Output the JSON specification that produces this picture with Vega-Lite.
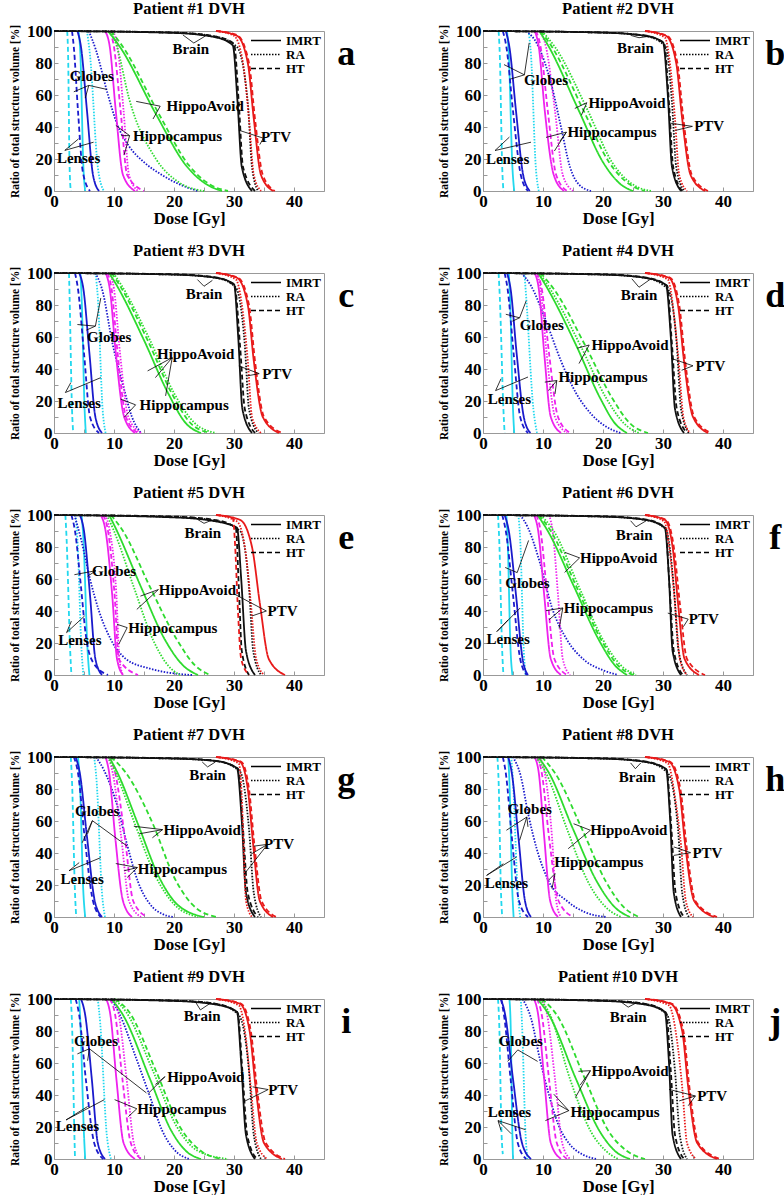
{"$schema":"https://vega.github.io/schema/vega-lite/v6.json","padding":{"left":9,"top":0,"right":0,"bottom":0},"columns":2,"spacing":{"row":82,"column":159},"bounds":"flush","resolve":{"scale":{"strokeDash":"independent"},"legend":{"strokeDash":"independent"}},
"datasets":{
"c1":[{"s":"L","t":"I","x":4.1,"y":100},{"s":"L","t":"I","x":4.4,"y":85},{"s":"L","t":"I","x":4.9,"y":15},{"s":"L","t":"I","x":5.2,"y":0},{"s":"L","t":"R","x":5.5,"y":100},{"s":"L","t":"R","x":6,"y":85},{"s":"L","t":"R","x":7.3,"y":15},{"s":"L","t":"R","x":8.3,"y":0},{"s":"L","t":"H","x":2.2,"y":100},{"s":"L","t":"H","x":2.35,"y":85},{"s":"L","t":"H","x":2.6,"y":15},{"s":"L","t":"H","x":2.8,"y":0},{"s":"G","t":"I","x":3.9,"y":100},{"s":"G","t":"I","x":4.5,"y":90},{"s":"G","t":"I","x":5.5,"y":50},{"s":"G","t":"I","x":6.5,"y":10},{"s":"G","t":"I","x":7.5,"y":0},{"s":"G","t":"R","x":5.8,"y":100},{"s":"G","t":"R","x":7,"y":88},{"s":"G","t":"R","x":9,"y":60},{"s":"G","t":"R","x":10.5,"y":42},{"s":"G","t":"R","x":12.5,"y":28},{"s":"G","t":"R","x":15,"y":18},{"s":"G","t":"R","x":18,"y":10},{"s":"G","t":"R","x":21,"y":4},{"s":"G","t":"R","x":24,"y":0},{"s":"G","t":"H","x":3,"y":100},{"s":"G","t":"H","x":3.3,"y":90},{"s":"G","t":"H","x":4,"y":50},{"s":"G","t":"H","x":4.8,"y":12},{"s":"G","t":"H","x":6,"y":0},{"s":"C","t":"I","x":8.5,"y":100},{"s":"C","t":"I","x":9.3,"y":90},{"s":"C","t":"I","x":10.3,"y":50},{"s":"C","t":"I","x":11.5,"y":10},{"s":"C","t":"I","x":13.5,"y":0},{"s":"C","t":"R","x":9.8,"y":100},{"s":"C","t":"R","x":10.6,"y":90},{"s":"C","t":"R","x":11.6,"y":50},{"s":"C","t":"R","x":12.5,"y":10},{"s":"C","t":"R","x":14,"y":0},{"s":"C","t":"H","x":9.3,"y":100},{"s":"C","t":"H","x":10,"y":90},{"s":"C","t":"H","x":11.1,"y":50},{"s":"C","t":"H","x":12.2,"y":10},{"s":"C","t":"H","x":15,"y":0},{"s":"A","t":"I","x":9,"y":100},{"s":"A","t":"I","x":11,"y":90},{"s":"A","t":"I","x":17,"y":48},{"s":"A","t":"I","x":22,"y":16},{"s":"A","t":"I","x":25.5,"y":4},{"s":"A","t":"I","x":28,"y":0},{"s":"A","t":"R","x":9.5,"y":100},{"s":"A","t":"R","x":10.5,"y":90},{"s":"A","t":"R","x":12.5,"y":58},{"s":"A","t":"R","x":17,"y":20},{"s":"A","t":"R","x":21,"y":5},{"s":"A","t":"R","x":25,"y":0},{"s":"A","t":"H","x":9.5,"y":100},{"s":"A","t":"H","x":11.5,"y":90},{"s":"A","t":"H","x":17.5,"y":48},{"s":"A","t":"H","x":22.5,"y":16},{"s":"A","t":"H","x":26,"y":4},{"s":"A","t":"H","x":29,"y":0},{"s":"B","t":"I","x":0,"y":100},{"s":"B","t":"I","x":20,"y":98.8},{"s":"B","t":"I","x":27,"y":96},{"s":"B","t":"I","x":29.8,"y":91},{"s":"B","t":"I","x":30.6,"y":55},{"s":"B","t":"I","x":31.3,"y":15},{"s":"B","t":"I","x":33,"y":0},{"s":"B","t":"R","x":0,"y":100},{"s":"B","t":"R","x":20,"y":99},{"s":"B","t":"R","x":27,"y":96.5},{"s":"B","t":"R","x":30.5,"y":90},{"s":"B","t":"R","x":32.3,"y":55},{"s":"B","t":"R","x":33,"y":15},{"s":"B","t":"R","x":34,"y":0},{"s":"B","t":"H","x":0,"y":100},{"s":"B","t":"H","x":20,"y":99},{"s":"B","t":"H","x":27,"y":96.5},{"s":"B","t":"H","x":30,"y":92},{"s":"B","t":"H","x":30.8,"y":55},{"s":"B","t":"H","x":31.5,"y":15},{"s":"B","t":"H","x":33.5,"y":0},{"s":"P","t":"I","x":27,"y":100},{"s":"P","t":"I","x":30.5,"y":97},{"s":"P","t":"I","x":32.3,"y":80},{"s":"P","t":"I","x":33.3,"y":45},{"s":"P","t":"I","x":34.5,"y":10},{"s":"P","t":"I","x":36.5,"y":0},{"s":"P","t":"R","x":27,"y":100},{"s":"P","t":"R","x":30,"y":97},{"s":"P","t":"R","x":31.5,"y":80},{"s":"P","t":"R","x":32.5,"y":45},{"s":"P","t":"R","x":33.3,"y":10},{"s":"P","t":"R","x":34.5,"y":0},{"s":"P","t":"H","x":27,"y":100},{"s":"P","t":"H","x":30.5,"y":97.5},{"s":"P","t":"H","x":32.5,"y":80},{"s":"P","t":"H","x":33.5,"y":45},{"s":"P","t":"H","x":34.8,"y":10},{"s":"P","t":"H","x":36.8,"y":0}],
"c2":[{"s":"L","t":"I","x":4,"y":100},{"s":"L","t":"I","x":4.3,"y":85},{"s":"L","t":"I","x":4.9,"y":15},{"s":"L","t":"I","x":5.2,"y":0},{"s":"L","t":"R","x":7.6,"y":100},{"s":"L","t":"R","x":8,"y":85},{"s":"L","t":"R","x":8.8,"y":15},{"s":"L","t":"R","x":9.3,"y":0},{"s":"L","t":"H","x":2.6,"y":100},{"s":"L","t":"H","x":2.8,"y":85},{"s":"L","t":"H","x":3.2,"y":15},{"s":"L","t":"H","x":3.4,"y":0},{"s":"G","t":"I","x":3.8,"y":100},{"s":"G","t":"I","x":4.4,"y":90},{"s":"G","t":"I","x":5.5,"y":50},{"s":"G","t":"I","x":6.7,"y":10},{"s":"G","t":"I","x":7.8,"y":0},{"s":"G","t":"R","x":7.2,"y":100},{"s":"G","t":"R","x":9,"y":92},{"s":"G","t":"R","x":11.5,"y":65},{"s":"G","t":"R","x":13,"y":40},{"s":"G","t":"R","x":14.5,"y":15},{"s":"G","t":"R","x":16,"y":4},{"s":"G","t":"R","x":18,"y":0},{"s":"G","t":"H","x":3.3,"y":100},{"s":"G","t":"H","x":3.9,"y":90},{"s":"G","t":"H","x":5,"y":50},{"s":"G","t":"H","x":6.3,"y":10},{"s":"G","t":"H","x":7.5,"y":0},{"s":"C","t":"I","x":8.6,"y":100},{"s":"C","t":"I","x":9.3,"y":90},{"s":"C","t":"I","x":10.3,"y":50},{"s":"C","t":"I","x":11.8,"y":10},{"s":"C","t":"I","x":13.5,"y":0},{"s":"C","t":"R","x":9.3,"y":100},{"s":"C","t":"R","x":10.5,"y":90},{"s":"C","t":"R","x":12,"y":50},{"s":"C","t":"R","x":13.3,"y":10},{"s":"C","t":"R","x":15,"y":0},{"s":"C","t":"H","x":8.8,"y":100},{"s":"C","t":"H","x":9.6,"y":90},{"s":"C","t":"H","x":10.8,"y":50},{"s":"C","t":"H","x":12.2,"y":10},{"s":"C","t":"H","x":14,"y":0},{"s":"A","t":"I","x":9.4,"y":100},{"s":"A","t":"I","x":11,"y":90},{"s":"A","t":"I","x":16,"y":50},{"s":"A","t":"I","x":20,"y":18},{"s":"A","t":"I","x":23,"y":4},{"s":"A","t":"I","x":25,"y":0},{"s":"A","t":"R","x":9.8,"y":100},{"s":"A","t":"R","x":12,"y":90},{"s":"A","t":"R","x":17.5,"y":50},{"s":"A","t":"R","x":21.5,"y":18},{"s":"A","t":"R","x":25,"y":4},{"s":"A","t":"R","x":28,"y":0},{"s":"A","t":"H","x":9.6,"y":100},{"s":"A","t":"H","x":11.5,"y":90},{"s":"A","t":"H","x":16.8,"y":50},{"s":"A","t":"H","x":21,"y":18},{"s":"A","t":"H","x":24.5,"y":4},{"s":"A","t":"H","x":27,"y":0},{"s":"B","t":"I","x":0,"y":100},{"s":"B","t":"I","x":20,"y":99},{"s":"B","t":"I","x":27,"y":97},{"s":"B","t":"I","x":30,"y":93},{"s":"B","t":"I","x":30.8,"y":60},{"s":"B","t":"I","x":31.5,"y":15},{"s":"B","t":"I","x":33,"y":0},{"s":"B","t":"R","x":0,"y":100},{"s":"B","t":"R","x":20,"y":99},{"s":"B","t":"R","x":27,"y":97},{"s":"B","t":"R","x":30.5,"y":90},{"s":"B","t":"R","x":31.5,"y":55},{"s":"B","t":"R","x":32.2,"y":15},{"s":"B","t":"R","x":33.5,"y":0},{"s":"B","t":"H","x":0,"y":100},{"s":"B","t":"H","x":20,"y":99},{"s":"B","t":"H","x":27,"y":97.2},{"s":"B","t":"H","x":30.2,"y":92},{"s":"B","t":"H","x":31,"y":55},{"s":"B","t":"H","x":31.7,"y":15},{"s":"B","t":"H","x":33.2,"y":0},{"s":"P","t":"I","x":27,"y":100},{"s":"P","t":"I","x":30.5,"y":97},{"s":"P","t":"I","x":32.2,"y":80},{"s":"P","t":"I","x":33.2,"y":45},{"s":"P","t":"I","x":34.6,"y":10},{"s":"P","t":"I","x":37,"y":0},{"s":"P","t":"R","x":27,"y":100},{"s":"P","t":"R","x":30.3,"y":96},{"s":"P","t":"R","x":31.3,"y":75},{"s":"P","t":"R","x":32,"y":45},{"s":"P","t":"R","x":32.7,"y":10},{"s":"P","t":"R","x":34,"y":0},{"s":"P","t":"H","x":27,"y":100},{"s":"P","t":"H","x":30.7,"y":97},{"s":"P","t":"H","x":32.4,"y":80},{"s":"P","t":"H","x":33.4,"y":45},{"s":"P","t":"H","x":34.8,"y":10},{"s":"P","t":"H","x":37.5,"y":0}],
"c3":[{"s":"L","t":"I","x":4.4,"y":100},{"s":"L","t":"I","x":4.6,"y":85},{"s":"L","t":"I","x":5.1,"y":15},{"s":"L","t":"I","x":5.3,"y":0},{"s":"L","t":"R","x":6.9,"y":100},{"s":"L","t":"R","x":7.3,"y":85},{"s":"L","t":"R","x":8.1,"y":15},{"s":"L","t":"R","x":8.6,"y":0},{"s":"L","t":"H","x":2.5,"y":100},{"s":"L","t":"H","x":2.6,"y":85},{"s":"L","t":"H","x":3,"y":15},{"s":"L","t":"H","x":3.2,"y":0},{"s":"G","t":"I","x":4.2,"y":100},{"s":"G","t":"I","x":4.9,"y":90},{"s":"G","t":"I","x":5.9,"y":50},{"s":"G","t":"I","x":6.9,"y":10},{"s":"G","t":"I","x":8,"y":0},{"s":"G","t":"R","x":6.9,"y":100},{"s":"G","t":"R","x":8,"y":90},{"s":"G","t":"R","x":9.8,"y":55},{"s":"G","t":"R","x":11.5,"y":30},{"s":"G","t":"R","x":13,"y":10},{"s":"G","t":"R","x":14.5,"y":0},{"s":"G","t":"H","x":3.5,"y":100},{"s":"G","t":"H","x":4,"y":90},{"s":"G","t":"H","x":5,"y":50},{"s":"G","t":"H","x":6,"y":10},{"s":"G","t":"H","x":7.5,"y":0},{"s":"C","t":"I","x":8.6,"y":100},{"s":"C","t":"I","x":9.3,"y":90},{"s":"C","t":"I","x":10.3,"y":50},{"s":"C","t":"I","x":11.7,"y":10},{"s":"C","t":"I","x":13.5,"y":0},{"s":"C","t":"R","x":9.2,"y":100},{"s":"C","t":"R","x":10,"y":90},{"s":"C","t":"R","x":11,"y":50},{"s":"C","t":"R","x":12.4,"y":10},{"s":"C","t":"R","x":14.5,"y":0},{"s":"C","t":"H","x":8.9,"y":100},{"s":"C","t":"H","x":9.6,"y":90},{"s":"C","t":"H","x":10.6,"y":50},{"s":"C","t":"H","x":12,"y":10},{"s":"C","t":"H","x":14,"y":0},{"s":"A","t":"I","x":9.2,"y":100},{"s":"A","t":"I","x":10.5,"y":92},{"s":"A","t":"I","x":15,"y":58},{"s":"A","t":"I","x":19,"y":25},{"s":"A","t":"I","x":22,"y":6},{"s":"A","t":"I","x":24.5,"y":0},{"s":"A","t":"R","x":9.9,"y":100},{"s":"A","t":"R","x":11.3,"y":92},{"s":"A","t":"R","x":16,"y":58},{"s":"A","t":"R","x":20,"y":25},{"s":"A","t":"R","x":23.5,"y":6},{"s":"A","t":"R","x":27,"y":0},{"s":"A","t":"H","x":9.6,"y":100},{"s":"A","t":"H","x":11,"y":92},{"s":"A","t":"H","x":15.6,"y":58},{"s":"A","t":"H","x":19.6,"y":25},{"s":"A","t":"H","x":22.8,"y":6},{"s":"A","t":"H","x":26,"y":0},{"s":"B","t":"I","x":0,"y":100},{"s":"B","t":"I","x":20,"y":99},{"s":"B","t":"I","x":27,"y":97},{"s":"B","t":"I","x":30,"y":93},{"s":"B","t":"I","x":30.7,"y":60},{"s":"B","t":"I","x":31.4,"y":15},{"s":"B","t":"I","x":33,"y":0},{"s":"B","t":"R","x":0,"y":100},{"s":"B","t":"R","x":20,"y":99},{"s":"B","t":"R","x":27,"y":97},{"s":"B","t":"R","x":30.3,"y":91},{"s":"B","t":"R","x":31.8,"y":55},{"s":"B","t":"R","x":32.5,"y":15},{"s":"B","t":"R","x":34,"y":0},{"s":"B","t":"H","x":0,"y":100},{"s":"B","t":"H","x":20,"y":99.2},{"s":"B","t":"H","x":27,"y":97.3},{"s":"B","t":"H","x":30.1,"y":92},{"s":"B","t":"H","x":31,"y":55},{"s":"B","t":"H","x":31.8,"y":15},{"s":"B","t":"H","x":33.5,"y":0},{"s":"P","t":"I","x":27,"y":100},{"s":"P","t":"I","x":30.5,"y":97},{"s":"P","t":"I","x":32.3,"y":80},{"s":"P","t":"I","x":33.3,"y":45},{"s":"P","t":"I","x":34.8,"y":10},{"s":"P","t":"I","x":37.5,"y":0},{"s":"P","t":"R","x":27,"y":100},{"s":"P","t":"R","x":30.3,"y":96},{"s":"P","t":"R","x":31.5,"y":75},{"s":"P","t":"R","x":32.3,"y":45},{"s":"P","t":"R","x":33,"y":10},{"s":"P","t":"R","x":34.5,"y":0},{"s":"P","t":"H","x":27,"y":100},{"s":"P","t":"H","x":30.7,"y":97},{"s":"P","t":"H","x":32.5,"y":80},{"s":"P","t":"H","x":33.5,"y":45},{"s":"P","t":"H","x":35,"y":10},{"s":"P","t":"H","x":38,"y":0}],
"c4":[{"s":"L","t":"I","x":4.3,"y":100},{"s":"L","t":"I","x":4.5,"y":85},{"s":"L","t":"I","x":5,"y":15},{"s":"L","t":"I","x":5.2,"y":0},{"s":"L","t":"R","x":6.9,"y":100},{"s":"L","t":"R","x":7.2,"y":85},{"s":"L","t":"R","x":8.4,"y":15},{"s":"L","t":"R","x":9,"y":0},{"s":"L","t":"H","x":2.6,"y":100},{"s":"L","t":"H","x":2.8,"y":85},{"s":"L","t":"H","x":3.4,"y":15},{"s":"L","t":"H","x":3.6,"y":0},{"s":"G","t":"I","x":4,"y":100},{"s":"G","t":"I","x":4.6,"y":90},{"s":"G","t":"I","x":5.6,"y":50},{"s":"G","t":"I","x":6.8,"y":10},{"s":"G","t":"I","x":7.9,"y":0},{"s":"G","t":"R","x":6.4,"y":100},{"s":"G","t":"R","x":8,"y":92},{"s":"G","t":"R","x":10.5,"y":70},{"s":"G","t":"R","x":13,"y":45},{"s":"G","t":"R","x":15.5,"y":25},{"s":"G","t":"R","x":18,"y":12},{"s":"G","t":"R","x":20.5,"y":4},{"s":"G","t":"R","x":23,"y":0},{"s":"G","t":"H","x":3.6,"y":100},{"s":"G","t":"H","x":4.1,"y":90},{"s":"G","t":"H","x":5.1,"y":50},{"s":"G","t":"H","x":6.2,"y":10},{"s":"G","t":"H","x":7.5,"y":0},{"s":"C","t":"I","x":8.6,"y":100},{"s":"C","t":"I","x":9.3,"y":90},{"s":"C","t":"I","x":10.2,"y":50},{"s":"C","t":"I","x":11.3,"y":10},{"s":"C","t":"I","x":13,"y":0},{"s":"C","t":"R","x":9,"y":100},{"s":"C","t":"R","x":9.6,"y":90},{"s":"C","t":"R","x":10.6,"y":50},{"s":"C","t":"R","x":12,"y":10},{"s":"C","t":"R","x":14,"y":0},{"s":"C","t":"H","x":9,"y":100},{"s":"C","t":"H","x":9.8,"y":90},{"s":"C","t":"H","x":11,"y":50},{"s":"C","t":"H","x":12.5,"y":10},{"s":"C","t":"H","x":14.5,"y":0},{"s":"A","t":"I","x":9.2,"y":100},{"s":"A","t":"I","x":10.8,"y":90},{"s":"A","t":"I","x":15.5,"y":55},{"s":"A","t":"I","x":19.5,"y":22},{"s":"A","t":"I","x":22,"y":6},{"s":"A","t":"I","x":24,"y":0},{"s":"A","t":"R","x":9.4,"y":100},{"s":"A","t":"R","x":11.2,"y":90},{"s":"A","t":"R","x":16.2,"y":55},{"s":"A","t":"R","x":20.5,"y":22},{"s":"A","t":"R","x":23.5,"y":6},{"s":"A","t":"R","x":26,"y":0},{"s":"A","t":"H","x":9.6,"y":100},{"s":"A","t":"H","x":11.8,"y":90},{"s":"A","t":"H","x":17,"y":55},{"s":"A","t":"H","x":21.5,"y":22},{"s":"A","t":"H","x":24.5,"y":6},{"s":"A","t":"H","x":27.5,"y":0},{"s":"B","t":"I","x":0,"y":100},{"s":"B","t":"I","x":20,"y":99},{"s":"B","t":"I","x":27,"y":97},{"s":"B","t":"I","x":30.5,"y":92.5},{"s":"B","t":"I","x":31.3,"y":60},{"s":"B","t":"I","x":32,"y":15},{"s":"B","t":"I","x":33.5,"y":0},{"s":"B","t":"R","x":0,"y":100},{"s":"B","t":"R","x":20,"y":99},{"s":"B","t":"R","x":27,"y":97},{"s":"B","t":"R","x":30.8,"y":90},{"s":"B","t":"R","x":32.3,"y":55},{"s":"B","t":"R","x":33,"y":15},{"s":"B","t":"R","x":34.3,"y":0},{"s":"B","t":"H","x":0,"y":100},{"s":"B","t":"H","x":20,"y":99.2},{"s":"B","t":"H","x":27,"y":97.3},{"s":"B","t":"H","x":30.7,"y":92},{"s":"B","t":"H","x":31.5,"y":55},{"s":"B","t":"H","x":32.3,"y":15},{"s":"B","t":"H","x":34,"y":0},{"s":"P","t":"I","x":27,"y":100},{"s":"P","t":"I","x":31,"y":97},{"s":"P","t":"I","x":32.5,"y":80},{"s":"P","t":"I","x":33.5,"y":45},{"s":"P","t":"I","x":35,"y":10},{"s":"P","t":"I","x":37.5,"y":0},{"s":"P","t":"R","x":27,"y":100},{"s":"P","t":"R","x":30.8,"y":96},{"s":"P","t":"R","x":31.8,"y":75},{"s":"P","t":"R","x":32.6,"y":45},{"s":"P","t":"R","x":33.4,"y":10},{"s":"P","t":"R","x":34.5,"y":0},{"s":"P","t":"H","x":27,"y":100},{"s":"P","t":"H","x":31.2,"y":97},{"s":"P","t":"H","x":32.7,"y":80},{"s":"P","t":"H","x":33.7,"y":45},{"s":"P","t":"H","x":35.2,"y":10},{"s":"P","t":"H","x":38,"y":0}],
"c5":[{"s":"L","t":"I","x":4.6,"y":100},{"s":"L","t":"I","x":4.9,"y":85},{"s":"L","t":"I","x":5.6,"y":15},{"s":"L","t":"I","x":5.9,"y":0},{"s":"L","t":"R","x":3.6,"y":100},{"s":"L","t":"R","x":3.9,"y":85},{"s":"L","t":"R","x":4.6,"y":15},{"s":"L","t":"R","x":4.9,"y":0},{"s":"L","t":"H","x":1.9,"y":100},{"s":"L","t":"H","x":2.1,"y":85},{"s":"L","t":"H","x":2.7,"y":15},{"s":"L","t":"H","x":2.9,"y":0},{"s":"G","t":"I","x":4.3,"y":100},{"s":"G","t":"I","x":5,"y":90},{"s":"G","t":"I","x":6,"y":50},{"s":"G","t":"I","x":6.9,"y":10},{"s":"G","t":"I","x":8,"y":0},{"s":"G","t":"R","x":3.4,"y":100},{"s":"G","t":"R","x":4.5,"y":85},{"s":"G","t":"R","x":6,"y":60},{"s":"G","t":"R","x":7.5,"y":40},{"s":"G","t":"R","x":9.5,"y":22},{"s":"G","t":"R","x":12,"y":10},{"s":"G","t":"R","x":16,"y":4},{"s":"G","t":"R","x":20,"y":1},{"s":"G","t":"R","x":23,"y":0},{"s":"G","t":"H","x":2.9,"y":100},{"s":"G","t":"H","x":3.5,"y":90},{"s":"G","t":"H","x":4.5,"y":55},{"s":"G","t":"H","x":5.3,"y":25},{"s":"G","t":"H","x":6.5,"y":8},{"s":"G","t":"H","x":9,"y":0},{"s":"C","t":"I","x":7.8,"y":100},{"s":"C","t":"I","x":8.6,"y":90},{"s":"C","t":"I","x":9.7,"y":50},{"s":"C","t":"I","x":10.5,"y":10},{"s":"C","t":"I","x":11.5,"y":0},{"s":"C","t":"R","x":8.5,"y":100},{"s":"C","t":"R","x":9.3,"y":90},{"s":"C","t":"R","x":10.4,"y":50},{"s":"C","t":"R","x":10.9,"y":10},{"s":"C","t":"R","x":11.5,"y":0},{"s":"C","t":"H","x":8.2,"y":100},{"s":"C","t":"H","x":9,"y":90},{"s":"C","t":"H","x":10.1,"y":50},{"s":"C","t":"H","x":10.8,"y":10},{"s":"C","t":"H","x":14,"y":0},{"s":"A","t":"I","x":9.2,"y":100},{"s":"A","t":"I","x":10.5,"y":90},{"s":"A","t":"I","x":14.5,"y":55},{"s":"A","t":"I","x":18.5,"y":22},{"s":"A","t":"I","x":21.5,"y":6},{"s":"A","t":"I","x":24,"y":0},{"s":"A","t":"R","x":8.8,"y":100},{"s":"A","t":"R","x":10,"y":90},{"s":"A","t":"R","x":13.3,"y":55},{"s":"A","t":"R","x":16.5,"y":22},{"s":"A","t":"R","x":19,"y":6},{"s":"A","t":"R","x":21,"y":0},{"s":"A","t":"H","x":9.5,"y":100},{"s":"A","t":"H","x":11.5,"y":90},{"s":"A","t":"H","x":16,"y":55},{"s":"A","t":"H","x":20.5,"y":22},{"s":"A","t":"H","x":23.5,"y":6},{"s":"A","t":"H","x":26,"y":0},{"s":"B","t":"I","x":0,"y":100},{"s":"B","t":"I","x":20,"y":98.5},{"s":"B","t":"I","x":27,"y":96},{"s":"B","t":"I","x":30.5,"y":92},{"s":"B","t":"I","x":31.2,"y":60},{"s":"B","t":"I","x":32,"y":15},{"s":"B","t":"I","x":33.5,"y":0},{"s":"B","t":"R","x":0,"y":100},{"s":"B","t":"R","x":20,"y":98.8},{"s":"B","t":"R","x":27,"y":96.5},{"s":"B","t":"R","x":31,"y":90},{"s":"B","t":"R","x":32.5,"y":55},{"s":"B","t":"R","x":33.2,"y":15},{"s":"B","t":"R","x":34.5,"y":0},{"s":"B","t":"H","x":0,"y":100},{"s":"B","t":"H","x":20,"y":99},{"s":"B","t":"H","x":27,"y":96.8},{"s":"B","t":"H","x":30.3,"y":92},{"s":"B","t":"H","x":30.8,"y":55},{"s":"B","t":"H","x":31.3,"y":15},{"s":"B","t":"H","x":32.5,"y":0},{"s":"P","t":"I","x":27,"y":100},{"s":"P","t":"I","x":31,"y":97},{"s":"P","t":"I","x":33,"y":80},{"s":"P","t":"I","x":34.3,"y":45},{"s":"P","t":"I","x":35.8,"y":10},{"s":"P","t":"I","x":38.5,"y":0},{"s":"P","t":"R","x":27,"y":100},{"s":"P","t":"R","x":30.5,"y":96},{"s":"P","t":"R","x":32,"y":75},{"s":"P","t":"R","x":32.8,"y":45},{"s":"P","t":"R","x":33.7,"y":10},{"s":"P","t":"R","x":35,"y":0},{"s":"P","t":"H","x":27,"y":100},{"s":"P","t":"H","x":29.8,"y":98},{"s":"P","t":"H","x":30.2,"y":80},{"s":"P","t":"H","x":30.6,"y":45},{"s":"P","t":"H","x":31.2,"y":10},{"s":"P","t":"H","x":32.5,"y":0}],
"c6":[{"s":"L","t":"I","x":3.9,"y":100},{"s":"L","t":"I","x":4.1,"y":85},{"s":"L","t":"I","x":4.6,"y":15},{"s":"L","t":"I","x":4.9,"y":0},{"s":"L","t":"R","x":5.9,"y":100},{"s":"L","t":"R","x":6.2,"y":85},{"s":"L","t":"R","x":6.8,"y":15},{"s":"L","t":"R","x":7.1,"y":0},{"s":"L","t":"H","x":2.5,"y":100},{"s":"L","t":"H","x":2.7,"y":85},{"s":"L","t":"H","x":3.2,"y":15},{"s":"L","t":"H","x":3.4,"y":0},{"s":"G","t":"I","x":3.6,"y":100},{"s":"G","t":"I","x":4.3,"y":90},{"s":"G","t":"I","x":5.5,"y":50},{"s":"G","t":"I","x":6.6,"y":10},{"s":"G","t":"I","x":7.5,"y":0},{"s":"G","t":"R","x":6.2,"y":100},{"s":"G","t":"R","x":7.5,"y":92},{"s":"G","t":"R","x":9.5,"y":70},{"s":"G","t":"R","x":11.5,"y":42},{"s":"G","t":"R","x":14,"y":22},{"s":"G","t":"R","x":17,"y":9},{"s":"G","t":"R","x":20,"y":3},{"s":"G","t":"R","x":22.5,"y":0},{"s":"G","t":"H","x":3.2,"y":100},{"s":"G","t":"H","x":3.8,"y":90},{"s":"G","t":"H","x":5,"y":50},{"s":"G","t":"H","x":6.2,"y":10},{"s":"G","t":"H","x":7.3,"y":0},{"s":"C","t":"I","x":8.5,"y":100},{"s":"C","t":"I","x":9.2,"y":90},{"s":"C","t":"I","x":10.2,"y":50},{"s":"C","t":"I","x":11.3,"y":10},{"s":"C","t":"I","x":13,"y":0},{"s":"C","t":"R","x":11,"y":100},{"s":"C","t":"R","x":11.6,"y":90},{"s":"C","t":"R","x":12.5,"y":50},{"s":"C","t":"R","x":13.3,"y":10},{"s":"C","t":"R","x":14.5,"y":0},{"s":"C","t":"H","x":8.9,"y":100},{"s":"C","t":"H","x":9.6,"y":90},{"s":"C","t":"H","x":10.7,"y":50},{"s":"C","t":"H","x":11.9,"y":10},{"s":"C","t":"H","x":14,"y":0},{"s":"A","t":"I","x":9.1,"y":100},{"s":"A","t":"I","x":10.8,"y":90},{"s":"A","t":"I","x":15.2,"y":55},{"s":"A","t":"I","x":19.3,"y":22},{"s":"A","t":"I","x":22,"y":6},{"s":"A","t":"I","x":24,"y":0},{"s":"A","t":"R","x":9.6,"y":100},{"s":"A","t":"R","x":11.8,"y":90},{"s":"A","t":"R","x":16,"y":55},{"s":"A","t":"R","x":20,"y":22},{"s":"A","t":"R","x":23,"y":6},{"s":"A","t":"R","x":25.5,"y":0},{"s":"A","t":"H","x":9.3,"y":100},{"s":"A","t":"H","x":11.3,"y":90},{"s":"A","t":"H","x":15.6,"y":55},{"s":"A","t":"H","x":19.7,"y":22},{"s":"A","t":"H","x":22.5,"y":6},{"s":"A","t":"H","x":25,"y":0},{"s":"B","t":"I","x":0,"y":100},{"s":"B","t":"I","x":20,"y":99},{"s":"B","t":"I","x":27,"y":97},{"s":"B","t":"I","x":30.3,"y":92},{"s":"B","t":"I","x":31,"y":60},{"s":"B","t":"I","x":31.6,"y":15},{"s":"B","t":"I","x":33,"y":0},{"s":"B","t":"R","x":0,"y":100},{"s":"B","t":"R","x":20,"y":99},{"s":"B","t":"R","x":27,"y":97},{"s":"B","t":"R","x":30.5,"y":91},{"s":"B","t":"R","x":31.8,"y":55},{"s":"B","t":"R","x":32.6,"y":15},{"s":"B","t":"R","x":34,"y":0},{"s":"B","t":"H","x":0,"y":100},{"s":"B","t":"H","x":20,"y":99.2},{"s":"B","t":"H","x":27,"y":97.3},{"s":"B","t":"H","x":30.4,"y":92},{"s":"B","t":"H","x":31.1,"y":55},{"s":"B","t":"H","x":31.8,"y":15},{"s":"B","t":"H","x":33.3,"y":0},{"s":"P","t":"I","x":27,"y":100},{"s":"P","t":"I","x":30.3,"y":97},{"s":"P","t":"I","x":31.6,"y":80},{"s":"P","t":"I","x":32.5,"y":45},{"s":"P","t":"I","x":33.6,"y":10},{"s":"P","t":"I","x":36,"y":0},{"s":"P","t":"R","x":27,"y":100},{"s":"P","t":"R","x":30.2,"y":96},{"s":"P","t":"R","x":31.2,"y":75},{"s":"P","t":"R","x":32,"y":45},{"s":"P","t":"R","x":32.8,"y":10},{"s":"P","t":"R","x":34,"y":0},{"s":"P","t":"H","x":27,"y":100},{"s":"P","t":"H","x":30.5,"y":97},{"s":"P","t":"H","x":31.8,"y":80},{"s":"P","t":"H","x":32.8,"y":45},{"s":"P","t":"H","x":34,"y":10},{"s":"P","t":"H","x":37,"y":0}],
"c7":[{"s":"L","t":"I","x":4,"y":100},{"s":"L","t":"I","x":4.3,"y":85},{"s":"L","t":"I","x":4.9,"y":15},{"s":"L","t":"I","x":5.2,"y":0},{"s":"L","t":"R","x":6.7,"y":100},{"s":"L","t":"R","x":7.1,"y":85},{"s":"L","t":"R","x":8,"y":15},{"s":"L","t":"R","x":8.5,"y":0},{"s":"L","t":"H","x":2.8,"y":100},{"s":"L","t":"H","x":3,"y":85},{"s":"L","t":"H","x":3.5,"y":15},{"s":"L","t":"H","x":3.7,"y":0},{"s":"G","t":"I","x":3.6,"y":100},{"s":"G","t":"I","x":4.3,"y":90},{"s":"G","t":"I","x":5.5,"y":50},{"s":"G","t":"I","x":6.8,"y":10},{"s":"G","t":"I","x":8,"y":0},{"s":"G","t":"R","x":7,"y":100},{"s":"G","t":"R","x":8.3,"y":92},{"s":"G","t":"R","x":10.5,"y":70},{"s":"G","t":"R","x":12.2,"y":45},{"s":"G","t":"R","x":14,"y":22},{"s":"G","t":"R","x":16,"y":8},{"s":"G","t":"R","x":18,"y":2},{"s":"G","t":"R","x":20,"y":0},{"s":"G","t":"H","x":3.3,"y":100},{"s":"G","t":"H","x":4,"y":90},{"s":"G","t":"H","x":5.1,"y":50},{"s":"G","t":"H","x":6.5,"y":10},{"s":"G","t":"H","x":7.8,"y":0},{"s":"C","t":"I","x":8.6,"y":100},{"s":"C","t":"I","x":9.2,"y":90},{"s":"C","t":"I","x":10.2,"y":50},{"s":"C","t":"I","x":11.5,"y":10},{"s":"C","t":"I","x":13,"y":0},{"s":"C","t":"R","x":9,"y":100},{"s":"C","t":"R","x":9.8,"y":90},{"s":"C","t":"R","x":11.2,"y":50},{"s":"C","t":"R","x":12.5,"y":10},{"s":"C","t":"R","x":14.5,"y":0},{"s":"C","t":"H","x":9.3,"y":100},{"s":"C","t":"H","x":10.2,"y":90},{"s":"C","t":"H","x":11.8,"y":50},{"s":"C","t":"H","x":13.2,"y":10},{"s":"C","t":"H","x":15.5,"y":0},{"s":"A","t":"I","x":9.2,"y":100},{"s":"A","t":"I","x":10.6,"y":90},{"s":"A","t":"I","x":14,"y":58},{"s":"A","t":"I","x":17.5,"y":25},{"s":"A","t":"I","x":20.5,"y":8},{"s":"A","t":"I","x":25,"y":0},{"s":"A","t":"R","x":9,"y":100},{"s":"A","t":"R","x":10.3,"y":90},{"s":"A","t":"R","x":13.5,"y":58},{"s":"A","t":"R","x":17,"y":25},{"s":"A","t":"R","x":20,"y":8},{"s":"A","t":"R","x":24,"y":0},{"s":"A","t":"H","x":9.5,"y":100},{"s":"A","t":"H","x":12,"y":90},{"s":"A","t":"H","x":16.5,"y":58},{"s":"A","t":"H","x":20,"y":25},{"s":"A","t":"H","x":23,"y":8},{"s":"A","t":"H","x":27,"y":0},{"s":"B","t":"I","x":0,"y":100},{"s":"B","t":"I","x":20,"y":99},{"s":"B","t":"I","x":27,"y":97.5},{"s":"B","t":"I","x":30.5,"y":93},{"s":"B","t":"I","x":31.3,"y":60},{"s":"B","t":"I","x":32,"y":15},{"s":"B","t":"I","x":33.5,"y":0},{"s":"B","t":"R","x":0,"y":100},{"s":"B","t":"R","x":20,"y":99},{"s":"B","t":"R","x":27,"y":97.5},{"s":"B","t":"R","x":31,"y":91},{"s":"B","t":"R","x":32.5,"y":55},{"s":"B","t":"R","x":33.3,"y":15},{"s":"B","t":"R","x":34.5,"y":0},{"s":"B","t":"H","x":0,"y":100},{"s":"B","t":"H","x":20,"y":99.2},{"s":"B","t":"H","x":27,"y":97.6},{"s":"B","t":"H","x":30.7,"y":92.5},{"s":"B","t":"H","x":31.5,"y":55},{"s":"B","t":"H","x":32.3,"y":15},{"s":"B","t":"H","x":34,"y":0},{"s":"P","t":"I","x":27,"y":100},{"s":"P","t":"I","x":31,"y":97},{"s":"P","t":"I","x":32.3,"y":80},{"s":"P","t":"I","x":33.2,"y":45},{"s":"P","t":"I","x":34.3,"y":10},{"s":"P","t":"I","x":36.5,"y":0},{"s":"P","t":"R","x":27,"y":100},{"s":"P","t":"R","x":30.8,"y":96},{"s":"P","t":"R","x":31.3,"y":75},{"s":"P","t":"R","x":31.6,"y":45},{"s":"P","t":"R","x":32,"y":10},{"s":"P","t":"R","x":33,"y":0},{"s":"P","t":"H","x":27,"y":100},{"s":"P","t":"H","x":31.2,"y":97},{"s":"P","t":"H","x":32.5,"y":80},{"s":"P","t":"H","x":33.4,"y":45},{"s":"P","t":"H","x":34.6,"y":10},{"s":"P","t":"H","x":37,"y":0}],
"c8":[{"s":"L","t":"I","x":4.2,"y":100},{"s":"L","t":"I","x":4.4,"y":85},{"s":"L","t":"I","x":4.9,"y":15},{"s":"L","t":"I","x":5.1,"y":0},{"s":"L","t":"R","x":4.7,"y":100},{"s":"L","t":"R","x":5,"y":85},{"s":"L","t":"R","x":5.8,"y":15},{"s":"L","t":"R","x":6.2,"y":0},{"s":"L","t":"H","x":2.4,"y":100},{"s":"L","t":"H","x":2.6,"y":85},{"s":"L","t":"H","x":3,"y":15},{"s":"L","t":"H","x":3.2,"y":0},{"s":"G","t":"I","x":4.2,"y":100},{"s":"G","t":"I","x":4.8,"y":90},{"s":"G","t":"I","x":5.9,"y":50},{"s":"G","t":"I","x":7,"y":10},{"s":"G","t":"I","x":8,"y":0},{"s":"G","t":"R","x":5,"y":100},{"s":"G","t":"R","x":6.3,"y":88},{"s":"G","t":"R","x":7.5,"y":65},{"s":"G","t":"R","x":9,"y":42},{"s":"G","t":"R","x":11,"y":22},{"s":"G","t":"R","x":14,"y":10},{"s":"G","t":"R","x":17,"y":3},{"s":"G","t":"R","x":20.5,"y":0},{"s":"G","t":"H","x":3.3,"y":100},{"s":"G","t":"H","x":3.8,"y":90},{"s":"G","t":"H","x":4.8,"y":50},{"s":"G","t":"H","x":6,"y":10},{"s":"G","t":"H","x":7.5,"y":0},{"s":"C","t":"I","x":8.6,"y":100},{"s":"C","t":"I","x":9.3,"y":90},{"s":"C","t":"I","x":10.2,"y":50},{"s":"C","t":"I","x":11.2,"y":10},{"s":"C","t":"I","x":12.5,"y":0},{"s":"C","t":"R","x":9.5,"y":100},{"s":"C","t":"R","x":10.3,"y":90},{"s":"C","t":"R","x":11.5,"y":50},{"s":"C","t":"R","x":12.2,"y":10},{"s":"C","t":"R","x":13,"y":0},{"s":"C","t":"H","x":9,"y":100},{"s":"C","t":"H","x":9.8,"y":90},{"s":"C","t":"H","x":11,"y":50},{"s":"C","t":"H","x":12.6,"y":10},{"s":"C","t":"H","x":15,"y":0},{"s":"A","t":"I","x":9.2,"y":100},{"s":"A","t":"I","x":11,"y":90},{"s":"A","t":"I","x":15,"y":55},{"s":"A","t":"I","x":19,"y":22},{"s":"A","t":"I","x":22,"y":6},{"s":"A","t":"I","x":24.5,"y":0},{"s":"A","t":"R","x":8.8,"y":100},{"s":"A","t":"R","x":10.5,"y":90},{"s":"A","t":"R","x":14,"y":55},{"s":"A","t":"R","x":17.5,"y":22},{"s":"A","t":"R","x":20.5,"y":6},{"s":"A","t":"R","x":23,"y":0},{"s":"A","t":"H","x":9.8,"y":100},{"s":"A","t":"H","x":12,"y":90},{"s":"A","t":"H","x":16.5,"y":55},{"s":"A","t":"H","x":20.5,"y":22},{"s":"A","t":"H","x":23.5,"y":6},{"s":"A","t":"H","x":26,"y":0},{"s":"B","t":"I","x":0,"y":100},{"s":"B","t":"I","x":20,"y":99},{"s":"B","t":"I","x":27,"y":97},{"s":"B","t":"I","x":30.5,"y":92.5},{"s":"B","t":"I","x":31.2,"y":60},{"s":"B","t":"I","x":31.8,"y":15},{"s":"B","t":"I","x":33,"y":0},{"s":"B","t":"R","x":0,"y":100},{"s":"B","t":"R","x":20,"y":99},{"s":"B","t":"R","x":27,"y":97},{"s":"B","t":"R","x":30.8,"y":90},{"s":"B","t":"R","x":32.5,"y":55},{"s":"B","t":"R","x":33.2,"y":15},{"s":"B","t":"R","x":34.3,"y":0},{"s":"B","t":"H","x":0,"y":100},{"s":"B","t":"H","x":20,"y":99.2},{"s":"B","t":"H","x":27,"y":97.3},{"s":"B","t":"H","x":30.6,"y":92},{"s":"B","t":"H","x":31.4,"y":55},{"s":"B","t":"H","x":32.1,"y":15},{"s":"B","t":"H","x":33.5,"y":0},{"s":"P","t":"I","x":27,"y":100},{"s":"P","t":"I","x":31,"y":97},{"s":"P","t":"I","x":32.7,"y":80},{"s":"P","t":"I","x":33.7,"y":45},{"s":"P","t":"I","x":35.2,"y":10},{"s":"P","t":"I","x":38.5,"y":0},{"s":"P","t":"R","x":27,"y":100},{"s":"P","t":"R","x":30.8,"y":96},{"s":"P","t":"R","x":32,"y":75},{"s":"P","t":"R","x":33,"y":45},{"s":"P","t":"R","x":33.8,"y":10},{"s":"P","t":"R","x":35,"y":0},{"s":"P","t":"H","x":27,"y":100},{"s":"P","t":"H","x":31.2,"y":97},{"s":"P","t":"H","x":32.9,"y":80},{"s":"P","t":"H","x":33.9,"y":45},{"s":"P","t":"H","x":35.4,"y":10},{"s":"P","t":"H","x":39,"y":0}],
"c9":[{"s":"L","t":"I","x":4.2,"y":100},{"s":"L","t":"I","x":4.4,"y":85},{"s":"L","t":"I","x":5,"y":15},{"s":"L","t":"I","x":5.2,"y":0},{"s":"L","t":"R","x":7.3,"y":100},{"s":"L","t":"R","x":7.7,"y":85},{"s":"L","t":"R","x":8.8,"y":15},{"s":"L","t":"R","x":9.5,"y":0},{"s":"L","t":"H","x":2.8,"y":100},{"s":"L","t":"H","x":3,"y":85},{"s":"L","t":"H","x":3.4,"y":15},{"s":"L","t":"H","x":3.5,"y":0},{"s":"G","t":"I","x":4.5,"y":100},{"s":"G","t":"I","x":5.2,"y":90},{"s":"G","t":"I","x":6.3,"y":50},{"s":"G","t":"I","x":7.3,"y":10},{"s":"G","t":"I","x":8.5,"y":0},{"s":"G","t":"R","x":9.5,"y":100},{"s":"G","t":"R","x":11,"y":90},{"s":"G","t":"R","x":13.5,"y":65},{"s":"G","t":"R","x":16,"y":39},{"s":"G","t":"R","x":18,"y":18},{"s":"G","t":"R","x":20,"y":6},{"s":"G","t":"R","x":22.5,"y":0},{"s":"G","t":"H","x":3.6,"y":100},{"s":"G","t":"H","x":4.2,"y":90},{"s":"G","t":"H","x":5.3,"y":50},{"s":"G","t":"H","x":6.7,"y":10},{"s":"G","t":"H","x":8.2,"y":0},{"s":"C","t":"I","x":8.7,"y":100},{"s":"C","t":"I","x":9.4,"y":90},{"s":"C","t":"I","x":10.4,"y":50},{"s":"C","t":"I","x":11.6,"y":10},{"s":"C","t":"I","x":13.5,"y":0},{"s":"C","t":"R","x":9.8,"y":100},{"s":"C","t":"R","x":10.8,"y":90},{"s":"C","t":"R","x":12.1,"y":50},{"s":"C","t":"R","x":13.3,"y":10},{"s":"C","t":"R","x":14.5,"y":0},{"s":"C","t":"H","x":9.3,"y":100},{"s":"C","t":"H","x":10.2,"y":90},{"s":"C","t":"H","x":11.4,"y":50},{"s":"C","t":"H","x":12.8,"y":10},{"s":"C","t":"H","x":14.5,"y":0},{"s":"A","t":"I","x":9.6,"y":100},{"s":"A","t":"I","x":11.5,"y":90},{"s":"A","t":"I","x":16,"y":50},{"s":"A","t":"I","x":19.5,"y":18},{"s":"A","t":"I","x":22,"y":5},{"s":"A","t":"I","x":24.5,"y":0},{"s":"A","t":"R","x":10,"y":100},{"s":"A","t":"R","x":12,"y":92},{"s":"A","t":"R","x":16.5,"y":55},{"s":"A","t":"R","x":20.5,"y":20},{"s":"A","t":"R","x":24,"y":5},{"s":"A","t":"R","x":29,"y":0},{"s":"A","t":"H","x":10.2,"y":100},{"s":"A","t":"H","x":12.5,"y":92},{"s":"A","t":"H","x":17,"y":55},{"s":"A","t":"H","x":21,"y":20},{"s":"A","t":"H","x":24.5,"y":5},{"s":"A","t":"H","x":28,"y":0},{"s":"B","t":"I","x":0,"y":100},{"s":"B","t":"I","x":20,"y":98.8},{"s":"B","t":"I","x":27,"y":96.5},{"s":"B","t":"I","x":30.5,"y":92},{"s":"B","t":"I","x":31.2,"y":60},{"s":"B","t":"I","x":32,"y":15},{"s":"B","t":"I","x":33.5,"y":0},{"s":"B","t":"R","x":0,"y":100},{"s":"B","t":"R","x":20,"y":99},{"s":"B","t":"R","x":27,"y":97},{"s":"B","t":"R","x":30.8,"y":90},{"s":"B","t":"R","x":32.5,"y":55},{"s":"B","t":"R","x":33.3,"y":15},{"s":"B","t":"R","x":34.5,"y":0},{"s":"B","t":"H","x":0,"y":100},{"s":"B","t":"H","x":20,"y":99},{"s":"B","t":"H","x":27,"y":97},{"s":"B","t":"H","x":30.6,"y":91.5},{"s":"B","t":"H","x":31.4,"y":55},{"s":"B","t":"H","x":32.2,"y":15},{"s":"B","t":"H","x":33.8,"y":0},{"s":"P","t":"I","x":27,"y":100},{"s":"P","t":"I","x":31,"y":97},{"s":"P","t":"I","x":32.6,"y":80},{"s":"P","t":"I","x":33.6,"y":45},{"s":"P","t":"I","x":35,"y":10},{"s":"P","t":"I","x":38,"y":0},{"s":"P","t":"R","x":27,"y":100},{"s":"P","t":"R","x":30.8,"y":96},{"s":"P","t":"R","x":32,"y":75},{"s":"P","t":"R","x":32.8,"y":45},{"s":"P","t":"R","x":33.8,"y":10},{"s":"P","t":"R","x":35.5,"y":0},{"s":"P","t":"H","x":27,"y":100},{"s":"P","t":"H","x":31.2,"y":97},{"s":"P","t":"H","x":32.8,"y":80},{"s":"P","t":"H","x":33.8,"y":45},{"s":"P","t":"H","x":35.3,"y":10},{"s":"P","t":"H","x":38.5,"y":0}],
"c10":[{"s":"L","t":"I","x":4.4,"y":100},{"s":"L","t":"I","x":4.6,"y":85},{"s":"L","t":"I","x":4.9,"y":15},{"s":"L","t":"I","x":5,"y":0},{"s":"L","t":"R","x":6.3,"y":100},{"s":"L","t":"R","x":6.5,"y":85},{"s":"L","t":"R","x":7.1,"y":15},{"s":"L","t":"R","x":7.4,"y":0},{"s":"L","t":"H","x":2.5,"y":100},{"s":"L","t":"H","x":2.7,"y":85},{"s":"L","t":"H","x":3.1,"y":15},{"s":"L","t":"H","x":3.3,"y":3},{"s":"G","t":"I","x":3,"y":100},{"s":"G","t":"I","x":3.7,"y":90},{"s":"G","t":"I","x":5,"y":50},{"s":"G","t":"I","x":6.5,"y":10},{"s":"G","t":"I","x":8,"y":0},{"s":"G","t":"R","x":6.6,"y":100},{"s":"G","t":"R","x":8,"y":88},{"s":"G","t":"R","x":9.5,"y":62},{"s":"G","t":"R","x":11,"y":40},{"s":"G","t":"R","x":12.5,"y":22},{"s":"G","t":"R","x":14.5,"y":9},{"s":"G","t":"R","x":16.5,"y":3},{"s":"G","t":"R","x":19,"y":0},{"s":"G","t":"H","x":3,"y":100},{"s":"G","t":"H","x":3.5,"y":90},{"s":"G","t":"H","x":4.6,"y":50},{"s":"G","t":"H","x":5.8,"y":10},{"s":"G","t":"H","x":7.2,"y":0},{"s":"C","t":"I","x":8.5,"y":100},{"s":"C","t":"I","x":9.2,"y":90},{"s":"C","t":"I","x":10.2,"y":50},{"s":"C","t":"I","x":11.3,"y":10},{"s":"C","t":"I","x":13,"y":0},{"s":"C","t":"R","x":9.7,"y":100},{"s":"C","t":"R","x":10.7,"y":90},{"s":"C","t":"R","x":12,"y":50},{"s":"C","t":"R","x":13.2,"y":10},{"s":"C","t":"R","x":14.5,"y":0},{"s":"C","t":"H","x":9,"y":100},{"s":"C","t":"H","x":9.8,"y":90},{"s":"C","t":"H","x":11,"y":50},{"s":"C","t":"H","x":12.3,"y":10},{"s":"C","t":"H","x":14,"y":0},{"s":"A","t":"I","x":9.1,"y":100},{"s":"A","t":"I","x":11,"y":90},{"s":"A","t":"I","x":15.5,"y":50},{"s":"A","t":"I","x":19.5,"y":17},{"s":"A","t":"I","x":22,"y":5},{"s":"A","t":"I","x":24.5,"y":0},{"s":"A","t":"R","x":9.5,"y":100},{"s":"A","t":"R","x":11.2,"y":90},{"s":"A","t":"R","x":14.5,"y":50},{"s":"A","t":"R","x":18,"y":17},{"s":"A","t":"R","x":20.5,"y":5},{"s":"A","t":"R","x":22.5,"y":0},{"s":"A","t":"H","x":9.8,"y":100},{"s":"A","t":"H","x":12.3,"y":90},{"s":"A","t":"H","x":17,"y":50},{"s":"A","t":"H","x":21,"y":17},{"s":"A","t":"H","x":24,"y":5},{"s":"A","t":"H","x":27,"y":0},{"s":"B","t":"I","x":0,"y":100},{"s":"B","t":"I","x":20,"y":98.8},{"s":"B","t":"I","x":27,"y":96.5},{"s":"B","t":"I","x":30.3,"y":92},{"s":"B","t":"I","x":31,"y":60},{"s":"B","t":"I","x":31.6,"y":15},{"s":"B","t":"I","x":33,"y":0},{"s":"B","t":"R","x":0,"y":100},{"s":"B","t":"R","x":20,"y":99},{"s":"B","t":"R","x":27,"y":97},{"s":"B","t":"R","x":30.7,"y":90},{"s":"B","t":"R","x":32,"y":55},{"s":"B","t":"R","x":32.8,"y":15},{"s":"B","t":"R","x":34,"y":0},{"s":"B","t":"H","x":0,"y":100},{"s":"B","t":"H","x":20,"y":99},{"s":"B","t":"H","x":27,"y":97},{"s":"B","t":"H","x":30.5,"y":91.5},{"s":"B","t":"H","x":31.3,"y":55},{"s":"B","t":"H","x":32,"y":15},{"s":"B","t":"H","x":33.5,"y":0},{"s":"P","t":"I","x":27,"y":100},{"s":"P","t":"I","x":31.3,"y":97},{"s":"P","t":"I","x":33.2,"y":80},{"s":"P","t":"I","x":34.2,"y":45},{"s":"P","t":"I","x":35.7,"y":10},{"s":"P","t":"I","x":39,"y":0},{"s":"P","t":"R","x":27,"y":100},{"s":"P","t":"R","x":31,"y":96},{"s":"P","t":"R","x":32.3,"y":75},{"s":"P","t":"R","x":33.2,"y":45},{"s":"P","t":"R","x":34,"y":10},{"s":"P","t":"R","x":35.5,"y":0},{"s":"P","t":"H","x":27,"y":100},{"s":"P","t":"H","x":31.5,"y":97},{"s":"P","t":"H","x":33.4,"y":80},{"s":"P","t":"H","x":34.4,"y":45},{"s":"P","t":"H","x":35.9,"y":10},{"s":"P","t":"H","x":39.5,"y":0}],
"l1":[{"x":23.3,"y":92.5,"x2":21.5,"y2":97.5},{"x":23.3,"y":92.5,"x2":25.2,"y2":96.8},{"x":5.8,"y":66,"x2":3.3,"y2":62},{"x":5.8,"y":66,"x2":5.2,"y2":58},{"x":5.8,"y":66,"x2":8.8,"y2":63.5},{"x":17.7,"y":53,"x2":13.7,"y2":56},{"x":17.7,"y":53,"x2":16.5,"y2":45},{"x":12.6,"y":34.6,"x2":10.3,"y2":41},{"x":12.6,"y":34.6,"x2":11.2,"y2":34.6},{"x":12.6,"y":34.6,"x2":11.7,"y2":22.7},{"x":1.8,"y":25.4,"x2":4.1,"y2":32.6},{"x":1.8,"y":25.4,"x2":6.6,"y2":30.5},{"x":34.9,"y":33,"x2":30.8,"y2":38},{"x":34.9,"y":33,"x2":34.3,"y2":29}],
"l2":[{"x":26,"y":95.8,"x2":24.6,"y2":97.3},{"x":26,"y":95.8,"x2":27.9,"y2":96.8},{"x":6.9,"y":72.6,"x2":3.5,"y2":79},{"x":6.9,"y":72.6,"x2":4.6,"y2":70},{"x":6.9,"y":72.6,"x2":7.7,"y2":92.6},{"x":17.3,"y":55.2,"x2":15.3,"y2":51.6},{"x":17.3,"y":55.2,"x2":16.4,"y2":47.4},{"x":13.9,"y":36.8,"x2":10.5,"y2":33.5},{"x":13.9,"y":36.8,"x2":11.9,"y2":25},{"x":13.9,"y":36.8,"x2":12.8,"y2":31},{"x":2,"y":25.3,"x2":4.4,"y2":33.7},{"x":2,"y":25.3,"x2":8,"y2":30.5},{"x":34.9,"y":40.4,"x2":31,"y2":42.5},{"x":34.9,"y":40.4,"x2":32.1,"y2":37.9}],
"l3":[{"x":25,"y":91.7,"x2":23.9,"y2":95.9},{"x":25,"y":91.7,"x2":26.4,"y2":95.4},{"x":6.9,"y":66.8,"x2":3.9,"y2":67.8},{"x":6.9,"y":66.8,"x2":5.4,"y2":64.3},{"x":6.9,"y":66.8,"x2":7.8,"y2":84.4},{"x":19.7,"y":47.1,"x2":15.6,"y2":38.8},{"x":19.7,"y":47.1,"x2":16.9,"y2":34.6},{"x":19.7,"y":47.1,"x2":18.6,"y2":23.2},{"x":13.6,"y":17.6,"x2":11.1,"y2":21.2},{"x":13.6,"y":17.6,"x2":11.7,"y2":9.8},{"x":1.9,"y":25.3,"x2":7.8,"y2":34.6},{"x":1.9,"y":25.3,"x2":2.8,"y2":31.5},{"x":34.2,"y":37.1,"x2":30.8,"y2":41.9},{"x":34.2,"y":37.1,"x2":32.2,"y2":35.7}],
"l4":[{"x":26,"y":91.1,"x2":24.8,"y2":96.4},{"x":26,"y":91.1,"x2":28,"y2":96.4},{"x":6.1,"y":72,"x2":3.8,"y2":74.2},{"x":6.1,"y":72,"x2":4.9,"y2":69.9},{"x":6.1,"y":72,"x2":7.2,"y2":82.6},{"x":17.7,"y":55,"x2":15.7,"y2":53},{"x":17.7,"y":55,"x2":16,"y2":43.4},{"x":12.3,"y":32.8,"x2":10.3,"y2":31.8},{"x":12.3,"y":32.8,"x2":10.9,"y2":26.5},{"x":12.3,"y":32.8,"x2":12,"y2":24.4},{"x":2.1,"y":26.5,"x2":3,"y2":33.9},{"x":2.1,"y":26.5,"x2":7.5,"y2":35},{"x":35,"y":42,"x2":31.4,"y2":46.6},{"x":35,"y":42,"x2":33.1,"y2":39.2}],
"l5":[{"x":25,"y":94.8,"x2":23.9,"y2":97.3},{"x":25,"y":94.8,"x2":26.4,"y2":96.9},{"x":7,"y":65.2,"x2":3.4,"y2":62.7},{"x":7,"y":65.2,"x2":5.6,"y2":61.7},{"x":17.4,"y":53.4,"x2":14.4,"y2":49.3},{"x":17.4,"y":53.4,"x2":13.8,"y2":41},{"x":12.2,"y":29.6,"x2":10.5,"y2":31.7},{"x":12.2,"y":29.6,"x2":10.8,"y2":19.3},{"x":2.1,"y":26.5,"x2":5.1,"y2":36.9},{"x":2.1,"y":26.5,"x2":2.9,"y2":33.7},{"x":35.4,"y":40,"x2":30.2,"y2":50.3},{"x":35.4,"y":40,"x2":33,"y2":36.9}],
"l6":[{"x":25.5,"y":92.6,"x2":24.6,"y2":96.4},{"x":25.5,"y":92.6,"x2":27.2,"y2":96.4},{"x":5.7,"y":64,"x2":3.7,"y2":67.2},{"x":5.7,"y":64,"x2":7.6,"y2":84.1},{"x":16.1,"y":73.2,"x2":13.6,"y2":76.7},{"x":16.1,"y":73.2,"x2":13.6,"y2":64.1},{"x":13.3,"y":41.9,"x2":10.5,"y2":40.2},{"x":13.3,"y":41.9,"x2":11,"y2":34.5},{"x":13.3,"y":41.9,"x2":12.7,"y2":29.2},{"x":2.3,"y":27.1,"x2":6.2,"y2":41.9},{"x":2.3,"y":27.1,"x2":4.2,"y2":34.5},{"x":34.2,"y":34.9,"x2":30.8,"y2":38.7},{"x":34.2,"y":34.9,"x2":33.4,"y2":30.2}],
"l7":[{"x":25.6,"y":93.8,"x2":24.7,"y2":96.9},{"x":25.6,"y":93.8,"x2":26.9,"y2":96.9},{"x":6.4,"y":60.2,"x2":4.7,"y2":46.4},{"x":6.4,"y":60.2,"x2":12.2,"y2":44.3},{"x":6.4,"y":60.2,"x2":5.6,"y2":52},{"x":18.1,"y":54.6,"x2":13.3,"y2":56.7},{"x":18.1,"y":54.6,"x2":14.2,"y2":52},{"x":18.1,"y":54.6,"x2":16.4,"y2":49.5},{"x":13.9,"y":30.9,"x2":10.3,"y2":33.4},{"x":13.9,"y":30.9,"x2":11.7,"y2":28.9},{"x":13.9,"y":30.9,"x2":12.2,"y2":24.7},{"x":2.5,"y":28.9,"x2":4.2,"y2":34},{"x":2.5,"y":28.9,"x2":7.8,"y2":37.1},{"x":35.6,"y":45.4,"x2":32.8,"y2":39.2},{"x":35.6,"y":45.4,"x2":31.7,"y2":26.8},{"x":35.6,"y":45.4,"x2":33.3,"y2":44.3}],
"l8":[{"x":25.4,"y":92.7,"x2":24.6,"y2":96.3},{"x":25.4,"y":92.7,"x2":26.3,"y2":96.3},{"x":7.3,"y":62.5,"x2":3.9,"y2":54.2},{"x":7.3,"y":62.5,"x2":6.1,"y2":47.9},{"x":7.3,"y":62.5,"x2":7.5,"y2":56.3},{"x":17.9,"y":54.2,"x2":15.1,"y2":58.3},{"x":17.9,"y":54.2,"x2":14.2,"y2":42.7},{"x":12,"y":27.1,"x2":10.9,"y2":22.9},{"x":12,"y":27.1,"x2":11.5,"y2":17.7},{"x":0.6,"y":26,"x2":3.4,"y2":33.3},{"x":0.6,"y":26,"x2":5.6,"y2":37.5},{"x":34.6,"y":40.2,"x2":31.8,"y2":43.8},{"x":34.6,"y":40.2,"x2":31.8,"y2":38.5}],
"l9":[{"x":24.4,"y":93.2,"x2":23.6,"y2":98},{"x":24.4,"y":93.2,"x2":26.1,"y2":97.5},{"x":5.9,"y":68.9,"x2":3.9,"y2":65.7},{"x":5.9,"y":68.9,"x2":5.6,"y2":61.4},{"x":5.9,"y":68.9,"x2":15.4,"y2":41.3},{"x":18.5,"y":51.5,"x2":15.7,"y2":40.9},{"x":18.5,"y":51.5,"x2":16.9,"y2":46.6},{"x":13.8,"y":31.4,"x2":10.1,"y2":37.1},{"x":13.8,"y":31.4,"x2":12.4,"y2":26.5},{"x":2,"y":24.4,"x2":8.4,"y2":37.1},{"x":2,"y":24.4,"x2":5.6,"y2":32.8},{"x":35.7,"y":43.4,"x2":31.7,"y2":36},{"x":35.7,"y":43.4,"x2":33.1,"y2":45.1}],
"l10":[{"x":24.2,"y":94.9,"x2":23.1,"y2":97.9},{"x":24.2,"y":94.9,"x2":25.5,"y2":97.5},{"x":5.8,"y":68.2,"x2":4.1,"y2":61},{"x":5.8,"y":68.2,"x2":9.1,"y2":61},{"x":17.9,"y":55.2,"x2":15.9,"y2":54.8},{"x":17.9,"y":55.2,"x2":15.4,"y2":38.4},{"x":17.9,"y":55.2,"x2":16.2,"y2":46.2},{"x":14.3,"y":30.2,"x2":11.8,"y2":40.5},{"x":14.3,"y":30.2,"x2":12.4,"y2":34.3},{"x":14.3,"y":30.2,"x2":10.4,"y2":24},{"x":2.5,"y":24,"x2":3,"y2":17.9},{"x":2.5,"y":24,"x2":4.7,"y2":15.8},{"x":2.5,"y":24,"x2":7.1,"y2":18.3},{"x":35.4,"y":39.4,"x2":31,"y2":43.5},{"x":35.4,"y":39.4,"x2":32.7,"y2":36.3},{"x":35.4,"y":39.4,"x2":34.2,"y2":33.3}],
"t1":[{"l":"Brain","x":22.8,"y":88.5},{"l":"Globes","x":6.3,"y":72},{"l":"HippoAvoid","x":25.2,"y":53},{"l":"Hippocampus","x":20.6,"y":34.6},{"l":"Lenses","x":4.1,"y":20.6},{"l":"PTV","x":37,"y":34}],
"t2":[{"l":"Brain","x":25.4,"y":89.5},{"l":"Globes","x":10.5,"y":69.5},{"l":"HippoAvoid","x":24,"y":55},{"l":"Hippocampus","x":21.5,"y":36.8},{"l":"Lenses","x":4.1,"y":20},{"l":"PTV","x":37.7,"y":40.4}],
"t3":[{"l":"Brain","x":25,"y":86.7},{"l":"Globes","x":9.2,"y":60.2},{"l":"HippoAvoid","x":23.6,"y":49.6},{"l":"Hippocampus","x":21.7,"y":17.6},{"l":"Lenses","x":4.2,"y":19},{"l":"PTV","x":37.2,"y":37.1}],
"t4":[{"l":"Brain","x":26,"y":86.4},{"l":"Globes","x":9.8,"y":67.2},{"l":"HippoAvoid","x":24.5,"y":55},{"l":"Hippocampus","x":20,"y":35},{"l":"Lenses","x":4.4,"y":21.2},{"l":"PTV","x":37.9,"y":42}],
"t5":[{"l":"Brain","x":24.8,"y":88.6},{"l":"Globes","x":10,"y":65.2},{"l":"HippoAvoid","x":23.9,"y":53.4},{"l":"Hippocampus","x":19.8,"y":29.6},{"l":"Lenses","x":4.3,"y":21.7},{"l":"PTV","x":38.1,"y":40}],
"t6":[{"l":"Brain","x":25.2,"y":87.3},{"l":"Globes","x":7.4,"y":57.7},{"l":"HippoAvoid","x":22.6,"y":73.2},{"l":"Hippocampus","x":20.9,"y":41.9},{"l":"Lenses","x":4.2,"y":22.8},{"l":"PTV","x":36.8,"y":34.9}],
"t7":[{"l":"Brain","x":25.6,"y":88.7},{"l":"Globes","x":7.2,"y":66},{"l":"HippoAvoid","x":24.7,"y":54.6},{"l":"Hippocampus","x":21.4,"y":29.9},{"l":"Lenses","x":4.7,"y":23.7},{"l":"PTV","x":37.5,"y":45.4}],
"t8":[{"l":"Brain","x":25.7,"y":87.5},{"l":"Globes","x":7.8,"y":67.7},{"l":"HippoAvoid","x":24.3,"y":54.2},{"l":"Hippocampus","x":19.3,"y":34.4},{"l":"Lenses","x":3.9,"y":21.3},{"l":"PTV","x":37.4,"y":40.2}],
"t9":[{"l":"Brain","x":24.7,"y":89.6},{"l":"Globes","x":7,"y":73.5},{"l":"HippoAvoid","x":25.3,"y":51.5},{"l":"Hippocampus","x":21.3,"y":31.4},{"l":"Lenses","x":3.9,"y":20.8},{"l":"PTV","x":38.2,"y":43.4}],
"t10":[{"l":"Brain","x":24.2,"y":88.7},{"l":"Globes","x":6.3,"y":73.7},{"l":"HippoAvoid","x":24.5,"y":55.2},{"l":"Hippocampus","x":22,"y":29.2},{"l":"Lenses","x":4.4,"y":29.2},{"l":"PTV","x":38.2,"y":39.4}]
},
"concat":[
{"width":270,"height":160,"title":"Patient #1 DVH","encoding":{"x":{"field":"x","type":"quantitative","scale":{"domain":[0,45]},"title":"Dose [Gy]","axis":{"values":[0,5,10,15,20,25,30,35,40,45],"labelExpr":"datum.value%10?'':datum.label"}},"y":{"field":"y","type":"quantitative","scale":{"domain":[0,100]},"title":"Ratio of total structure volume [%]","axis":{"values":[0,10,20,30,40,50,60,70,80,90,100],"labelExpr":"datum.value%20?'':datum.label"}}},"layer":[{"data":{"name":"c1"},"mark":{"type":"line","interpolate":"monotone","strokeWidth":1.8},"encoding":{"color":{"field":"s","type":"nominal","legend":null},"strokeDash":{"field":"t","type":"nominal","scale":{"domain":["I","R","H"],"range":[[1,0],[1.5,1.5],[5,3]]},"legend":{"title":null,"labelExpr":"datum.label=='I'?'IMRT':datum.label=='R'?'RA':'HT'"}}}},{"data":{"name":"l1"},"mark":{"type":"rule","color":"black","strokeWidth":0.8},"encoding":{"x2":{"field":"x2"},"y2":{"field":"y2"}}},{"data":{"name":"t1"},"mark":{"type":"text","fontSize":15},"encoding":{"text":{"field":"l"}}},{"data":{"values":[{"l":"a","x":48.7,"y":85.5}]},"mark":{"type":"text","fontSize":36},"encoding":{"text":{"field":"l"}}}]},
{"width":270,"height":160,"title":"Patient #2 DVH","encoding":{"x":{"field":"x","type":"quantitative","scale":{"domain":[0,45]},"title":"Dose [Gy]","axis":{"values":[0,5,10,15,20,25,30,35,40,45],"labelExpr":"datum.value%10?'':datum.label"}},"y":{"field":"y","type":"quantitative","scale":{"domain":[0,100]},"title":"Ratio of total structure volume [%]","axis":{"values":[0,10,20,30,40,50,60,70,80,90,100],"labelExpr":"datum.value%20?'':datum.label"}}},"layer":[{"data":{"name":"c2"},"mark":{"type":"line","interpolate":"monotone","strokeWidth":1.8},"encoding":{"color":{"field":"s","type":"nominal","legend":null},"strokeDash":{"field":"t","type":"nominal","scale":{"domain":["I","R","H"],"range":[[1,0],[1.5,1.5],[5,3]]},"legend":{"title":null,"labelExpr":"datum.label=='I'?'IMRT':datum.label=='R'?'RA':'HT'"}}}},{"data":{"name":"l2"},"mark":{"type":"rule","color":"black","strokeWidth":0.8},"encoding":{"x2":{"field":"x2"},"y2":{"field":"y2"}}},{"data":{"name":"t2"},"mark":{"type":"text","fontSize":15},"encoding":{"text":{"field":"l"}}},{"data":{"values":[{"l":"b","x":48.7,"y":85.5}]},"mark":{"type":"text","fontSize":36},"encoding":{"text":{"field":"l"}}}]},
{"width":270,"height":160,"title":"Patient #3 DVH","encoding":{"x":{"field":"x","type":"quantitative","scale":{"domain":[0,45]},"title":"Dose [Gy]","axis":{"values":[0,5,10,15,20,25,30,35,40,45],"labelExpr":"datum.value%10?'':datum.label"}},"y":{"field":"y","type":"quantitative","scale":{"domain":[0,100]},"title":"Ratio of total structure volume [%]","axis":{"values":[0,10,20,30,40,50,60,70,80,90,100],"labelExpr":"datum.value%20?'':datum.label"}}},"layer":[{"data":{"name":"c3"},"mark":{"type":"line","interpolate":"monotone","strokeWidth":1.8},"encoding":{"color":{"field":"s","type":"nominal","legend":null},"strokeDash":{"field":"t","type":"nominal","scale":{"domain":["I","R","H"],"range":[[1,0],[1.5,1.5],[5,3]]},"legend":{"title":null,"labelExpr":"datum.label=='I'?'IMRT':datum.label=='R'?'RA':'HT'"}}}},{"data":{"name":"l3"},"mark":{"type":"rule","color":"black","strokeWidth":0.8},"encoding":{"x2":{"field":"x2"},"y2":{"field":"y2"}}},{"data":{"name":"t3"},"mark":{"type":"text","fontSize":15},"encoding":{"text":{"field":"l"}}},{"data":{"values":[{"l":"c","x":48.7,"y":85.5}]},"mark":{"type":"text","fontSize":36},"encoding":{"text":{"field":"l"}}}]},
{"width":270,"height":160,"title":"Patient #4 DVH","encoding":{"x":{"field":"x","type":"quantitative","scale":{"domain":[0,45]},"title":"Dose [Gy]","axis":{"values":[0,5,10,15,20,25,30,35,40,45],"labelExpr":"datum.value%10?'':datum.label"}},"y":{"field":"y","type":"quantitative","scale":{"domain":[0,100]},"title":"Ratio of total structure volume [%]","axis":{"values":[0,10,20,30,40,50,60,70,80,90,100],"labelExpr":"datum.value%20?'':datum.label"}}},"layer":[{"data":{"name":"c4"},"mark":{"type":"line","interpolate":"monotone","strokeWidth":1.8},"encoding":{"color":{"field":"s","type":"nominal","legend":null},"strokeDash":{"field":"t","type":"nominal","scale":{"domain":["I","R","H"],"range":[[1,0],[1.5,1.5],[5,3]]},"legend":{"title":null,"labelExpr":"datum.label=='I'?'IMRT':datum.label=='R'?'RA':'HT'"}}}},{"data":{"name":"l4"},"mark":{"type":"rule","color":"black","strokeWidth":0.8},"encoding":{"x2":{"field":"x2"},"y2":{"field":"y2"}}},{"data":{"name":"t4"},"mark":{"type":"text","fontSize":15},"encoding":{"text":{"field":"l"}}},{"data":{"values":[{"l":"d","x":48.7,"y":85.5}]},"mark":{"type":"text","fontSize":36},"encoding":{"text":{"field":"l"}}}]},
{"width":270,"height":160,"title":"Patient #5 DVH","encoding":{"x":{"field":"x","type":"quantitative","scale":{"domain":[0,45]},"title":"Dose [Gy]","axis":{"values":[0,5,10,15,20,25,30,35,40,45],"labelExpr":"datum.value%10?'':datum.label"}},"y":{"field":"y","type":"quantitative","scale":{"domain":[0,100]},"title":"Ratio of total structure volume [%]","axis":{"values":[0,10,20,30,40,50,60,70,80,90,100],"labelExpr":"datum.value%20?'':datum.label"}}},"layer":[{"data":{"name":"c5"},"mark":{"type":"line","interpolate":"monotone","strokeWidth":1.8},"encoding":{"color":{"field":"s","type":"nominal","legend":null},"strokeDash":{"field":"t","type":"nominal","scale":{"domain":["I","R","H"],"range":[[1,0],[1.5,1.5],[5,3]]},"legend":{"title":null,"labelExpr":"datum.label=='I'?'IMRT':datum.label=='R'?'RA':'HT'"}}}},{"data":{"name":"l5"},"mark":{"type":"rule","color":"black","strokeWidth":0.8},"encoding":{"x2":{"field":"x2"},"y2":{"field":"y2"}}},{"data":{"name":"t5"},"mark":{"type":"text","fontSize":15},"encoding":{"text":{"field":"l"}}},{"data":{"values":[{"l":"e","x":48.7,"y":85.5}]},"mark":{"type":"text","fontSize":36},"encoding":{"text":{"field":"l"}}}]},
{"width":270,"height":160,"title":"Patient #6 DVH","encoding":{"x":{"field":"x","type":"quantitative","scale":{"domain":[0,45]},"title":"Dose [Gy]","axis":{"values":[0,5,10,15,20,25,30,35,40,45],"labelExpr":"datum.value%10?'':datum.label"}},"y":{"field":"y","type":"quantitative","scale":{"domain":[0,100]},"title":"Ratio of total structure volume [%]","axis":{"values":[0,10,20,30,40,50,60,70,80,90,100],"labelExpr":"datum.value%20?'':datum.label"}}},"layer":[{"data":{"name":"c6"},"mark":{"type":"line","interpolate":"monotone","strokeWidth":1.8},"encoding":{"color":{"field":"s","type":"nominal","legend":null},"strokeDash":{"field":"t","type":"nominal","scale":{"domain":["I","R","H"],"range":[[1,0],[1.5,1.5],[5,3]]},"legend":{"title":null,"labelExpr":"datum.label=='I'?'IMRT':datum.label=='R'?'RA':'HT'"}}}},{"data":{"name":"l6"},"mark":{"type":"rule","color":"black","strokeWidth":0.8},"encoding":{"x2":{"field":"x2"},"y2":{"field":"y2"}}},{"data":{"name":"t6"},"mark":{"type":"text","fontSize":15},"encoding":{"text":{"field":"l"}}},{"data":{"values":[{"l":"f","x":48.7,"y":85.5}]},"mark":{"type":"text","fontSize":36},"encoding":{"text":{"field":"l"}}}]},
{"width":270,"height":160,"title":"Patient #7 DVH","encoding":{"x":{"field":"x","type":"quantitative","scale":{"domain":[0,45]},"title":"Dose [Gy]","axis":{"values":[0,5,10,15,20,25,30,35,40,45],"labelExpr":"datum.value%10?'':datum.label"}},"y":{"field":"y","type":"quantitative","scale":{"domain":[0,100]},"title":"Ratio of total structure volume [%]","axis":{"values":[0,10,20,30,40,50,60,70,80,90,100],"labelExpr":"datum.value%20?'':datum.label"}}},"layer":[{"data":{"name":"c7"},"mark":{"type":"line","interpolate":"monotone","strokeWidth":1.8},"encoding":{"color":{"field":"s","type":"nominal","legend":null},"strokeDash":{"field":"t","type":"nominal","scale":{"domain":["I","R","H"],"range":[[1,0],[1.5,1.5],[5,3]]},"legend":{"title":null,"labelExpr":"datum.label=='I'?'IMRT':datum.label=='R'?'RA':'HT'"}}}},{"data":{"name":"l7"},"mark":{"type":"rule","color":"black","strokeWidth":0.8},"encoding":{"x2":{"field":"x2"},"y2":{"field":"y2"}}},{"data":{"name":"t7"},"mark":{"type":"text","fontSize":15},"encoding":{"text":{"field":"l"}}},{"data":{"values":[{"l":"g","x":48.7,"y":85.5}]},"mark":{"type":"text","fontSize":36},"encoding":{"text":{"field":"l"}}}]},
{"width":270,"height":160,"title":"Patient #8 DVH","encoding":{"x":{"field":"x","type":"quantitative","scale":{"domain":[0,45]},"title":"Dose [Gy]","axis":{"values":[0,5,10,15,20,25,30,35,40,45],"labelExpr":"datum.value%10?'':datum.label"}},"y":{"field":"y","type":"quantitative","scale":{"domain":[0,100]},"title":"Ratio of total structure volume [%]","axis":{"values":[0,10,20,30,40,50,60,70,80,90,100],"labelExpr":"datum.value%20?'':datum.label"}}},"layer":[{"data":{"name":"c8"},"mark":{"type":"line","interpolate":"monotone","strokeWidth":1.8},"encoding":{"color":{"field":"s","type":"nominal","legend":null},"strokeDash":{"field":"t","type":"nominal","scale":{"domain":["I","R","H"],"range":[[1,0],[1.5,1.5],[5,3]]},"legend":{"title":null,"labelExpr":"datum.label=='I'?'IMRT':datum.label=='R'?'RA':'HT'"}}}},{"data":{"name":"l8"},"mark":{"type":"rule","color":"black","strokeWidth":0.8},"encoding":{"x2":{"field":"x2"},"y2":{"field":"y2"}}},{"data":{"name":"t8"},"mark":{"type":"text","fontSize":15},"encoding":{"text":{"field":"l"}}},{"data":{"values":[{"l":"h","x":48.7,"y":85.5}]},"mark":{"type":"text","fontSize":36},"encoding":{"text":{"field":"l"}}}]},
{"width":270,"height":160,"title":"Patient #9 DVH","encoding":{"x":{"field":"x","type":"quantitative","scale":{"domain":[0,45]},"title":"Dose [Gy]","axis":{"values":[0,5,10,15,20,25,30,35,40,45],"labelExpr":"datum.value%10?'':datum.label"}},"y":{"field":"y","type":"quantitative","scale":{"domain":[0,100]},"title":"Ratio of total structure volume [%]","axis":{"values":[0,10,20,30,40,50,60,70,80,90,100],"labelExpr":"datum.value%20?'':datum.label"}}},"layer":[{"data":{"name":"c9"},"mark":{"type":"line","interpolate":"monotone","strokeWidth":1.8},"encoding":{"color":{"field":"s","type":"nominal","legend":null},"strokeDash":{"field":"t","type":"nominal","scale":{"domain":["I","R","H"],"range":[[1,0],[1.5,1.5],[5,3]]},"legend":{"title":null,"labelExpr":"datum.label=='I'?'IMRT':datum.label=='R'?'RA':'HT'"}}}},{"data":{"name":"l9"},"mark":{"type":"rule","color":"black","strokeWidth":0.8},"encoding":{"x2":{"field":"x2"},"y2":{"field":"y2"}}},{"data":{"name":"t9"},"mark":{"type":"text","fontSize":15},"encoding":{"text":{"field":"l"}}},{"data":{"values":[{"l":"i","x":48.7,"y":85.5}]},"mark":{"type":"text","fontSize":36},"encoding":{"text":{"field":"l"}}}]},
{"width":270,"height":160,"title":"Patient #10 DVH","encoding":{"x":{"field":"x","type":"quantitative","scale":{"domain":[0,45]},"title":"Dose [Gy]","axis":{"values":[0,5,10,15,20,25,30,35,40,45],"labelExpr":"datum.value%10?'':datum.label"}},"y":{"field":"y","type":"quantitative","scale":{"domain":[0,100]},"title":"Ratio of total structure volume [%]","axis":{"values":[0,10,20,30,40,50,60,70,80,90,100],"labelExpr":"datum.value%20?'':datum.label"}}},"layer":[{"data":{"name":"c10"},"mark":{"type":"line","interpolate":"monotone","strokeWidth":1.8},"encoding":{"color":{"field":"s","type":"nominal","legend":null},"strokeDash":{"field":"t","type":"nominal","scale":{"domain":["I","R","H"],"range":[[1,0],[1.5,1.5],[5,3]]},"legend":{"title":null,"labelExpr":"datum.label=='I'?'IMRT':datum.label=='R'?'RA':'HT'"}}}},{"data":{"name":"l10"},"mark":{"type":"rule","color":"black","strokeWidth":0.8},"encoding":{"x2":{"field":"x2"},"y2":{"field":"y2"}}},{"data":{"name":"t10"},"mark":{"type":"text","fontSize":15},"encoding":{"text":{"field":"l"}}},{"data":{"values":[{"l":"j","x":48.7,"y":85.5}]},"mark":{"type":"text","fontSize":36},"encoding":{"text":{"field":"l"}}}]}
],
"config":{"background":"white","font":"Liberation Serif","view":{"stroke":"#999","strokeWidth":1},"range":{"category":["#2edb2e","#111111","#ee22ee","#1a1acc","#22d8ee","#e81a1a"]},"title":{"font":"Liberation Serif","fontSize":16.5,"fontWeight":"bold","color":"black","offset":5},"text":{"font":"Liberation Serif","fontWeight":"bold","color":"black"},"axis":{"domain":false,"grid":false,"labelFont":"Liberation Serif","labelFontWeight":"bold","labelFontSize":17,"labelColor":"black","labelOverlap":false,"titleFont":"Liberation Serif","titleFontWeight":"bold","titleColor":"black","tickColor":"#999","tickSize":-4,"labelPadding":6},"axisX":{"titleFontSize":17,"titlePadding":1,"labelFlush":false},"axisY":{"titleFontSize":11.5,"titlePadding":6},"legend":{"orient":"top-right","offset":3,"symbolType":"stroke","symbolStrokeColor":"black","symbolStrokeWidth":1.3,"symbolSize":900,"clipHeight":13,"labelFont":"Liberation Serif","labelFontWeight":"bold","labelFontSize":13,"labelColor":"black","padding":0,"rowPadding":0}}}
